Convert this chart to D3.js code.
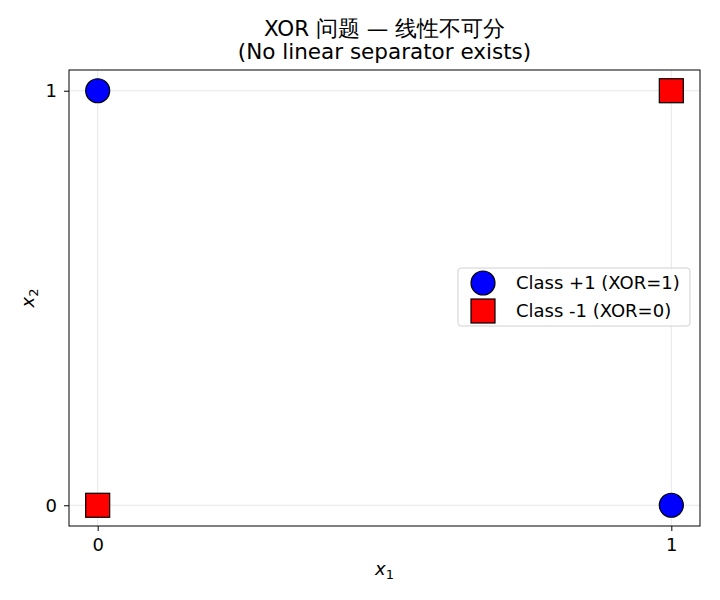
<!DOCTYPE html>
<html>
<head>
<meta charset="utf-8">
<script src="https://cdn.jsdelivr.net/npm/d3@7"></script>
<style>
  body { margin: 0; background: #fff; }
  svg { font-family: "DejaVu Sans", sans-serif; }
</style>
</head>
<body>
<svg id="chart" width="720" height="600"></svg>
<script>
// XOR points
var posX = [0, 1];
var posY = [1, 0];
var negX = [0, 1];
var negY = [0, 1];
var tickVals = [0, 1];
var legendLabels = ["Class +1 (XOR=1)", "Class -1 (XOR=0)"];

var margin = { top: 70, right: 20, bottom: 74, left: 69 };
var width = 720, height = 600;
var fs = 18;

var svg = d3.select("#chart");

var x = d3.scaleLinear().domain([-0.05, 1.05]).range([margin.left, width - margin.right]);
var y = d3.scaleLinear().domain([-0.05, 1.05]).range([height - margin.bottom, margin.top]);

// grid
var grid = svg.append("g");
tickVals.forEach(function(t) {
  grid.append("line").attr("x1", x(t)).attr("x2", x(t))
    .attr("y1", y.range()[0]).attr("y2", y.range()[1])
    .attr("stroke", "#b0b0b0").attr("stroke-opacity", 0.3).attr("stroke-width", 1);
  grid.append("line").attr("y1", y(t)).attr("y2", y(t))
    .attr("x1", x.range()[0]).attr("x2", x.range()[1])
    .attr("stroke", "#b0b0b0").attr("stroke-opacity", 0.3).attr("stroke-width", 1);
});

// axes
var xAxis = d3.axisBottom(x).tickValues(tickVals).tickFormat(d3.format("d")).tickSize(5).tickPadding(7);
var yAxis = d3.axisLeft(y).tickValues(tickVals).tickFormat(d3.format("d")).tickSize(5).tickPadding(7);

var gx = svg.append("g").attr("transform", "translate(0," + (height - margin.bottom) + ")").call(xAxis);
var gy = svg.append("g").attr("transform", "translate(" + margin.left + ",0)").call(yAxis);
[gx, gy].forEach(function(g) {
  g.select(".domain").remove();
  g.attr("font-size", fs).attr("font-family", "DejaVu Sans");
  g.selectAll("text").attr("fill", "#000");
  g.selectAll("line").attr("stroke", "#000");
});

// frame
svg.append("rect")
  .attr("x", margin.left).attr("y", margin.top)
  .attr("width", width - margin.left - margin.right)
  .attr("height", height - margin.top - margin.bottom)
  .attr("fill", "none").attr("stroke", "#000").attr("stroke-width", 1);

// markers
var r = 12;
svg.append("g").selectAll("circle")
  .data(posX)
  .enter().append("circle")
  .attr("cx", function(d) { return x(d); })
  .attr("cy", function(d, i) { return y(posY[i]); })
  .attr("r", r)
  .attr("fill", "blue").attr("stroke", "#000").attr("stroke-width", 1.2);

svg.append("g").selectAll("rect")
  .data(negX)
  .enter().append("rect")
  .attr("x", function(d) { return x(d) - r; })
  .attr("y", function(d, i) { return y(negY[i]) - r; })
  .attr("width", 2 * r).attr("height", 2 * r)
  .attr("fill", "red").attr("stroke", "#000").attr("stroke-width", 1.2);

// legend
var leg = svg.append("g").attr("transform", "translate(458,268)");
leg.append("rect").attr("width", 232).attr("height", 58).attr("rx", 3)
  .attr("fill", "#fff").attr("fill-opacity", 0.8).attr("stroke", "#d0d0d0");
leg.append("circle").attr("cx", 25).attr("cy", 15).attr("r", r)
  .attr("fill", "blue").attr("stroke", "#000").attr("stroke-width", 1.2);
leg.append("rect").attr("x", 25 - r).attr("y", 43 - r).attr("width", 2 * r).attr("height", 2 * r)
  .attr("fill", "red").attr("stroke", "#000").attr("stroke-width", 1.2);
leg.selectAll("text.lbl").data(legendLabels).enter().append("text")
  .attr("class", "lbl")
  .attr("x", 58).attr("y", function(d, i) { return 15 + i * 28; })
  .attr("dy", "0.35em").attr("font-size", fs)
  .text(function(d) { return d; });

// title
var cx = (margin.left + width - margin.right) / 2;
svg.append("text").attr("x", cx).attr("y", 36).attr("text-anchor", "middle")
  .attr("font-size", 21.5).text("XOR 问题 — 线性不可分");
svg.append("text").attr("x", cx).attr("y", 59).attr("text-anchor", "middle")
  .attr("font-size", 21.5).text("(No linear separator exists)");

// axis labels
var xl = svg.append("text").attr("x", cx).attr("y", 575).attr("text-anchor", "middle")
  .attr("font-size", fs).attr("font-style", "italic");
xl.append("tspan").text("x");
xl.append("tspan").attr("font-size", 13).attr("dy", 4).attr("font-style", "normal").text("1");

var yl = svg.append("text").attr("transform", "translate(34," + ((margin.top + height - margin.bottom) / 2) + ") rotate(-90)")
  .attr("text-anchor", "middle").attr("font-size", fs).attr("font-style", "italic");
yl.append("tspan").text("x");
yl.append("tspan").attr("font-size", 13).attr("dy", 4).attr("font-style", "normal").text("2");
</script>
</body>
</html>
